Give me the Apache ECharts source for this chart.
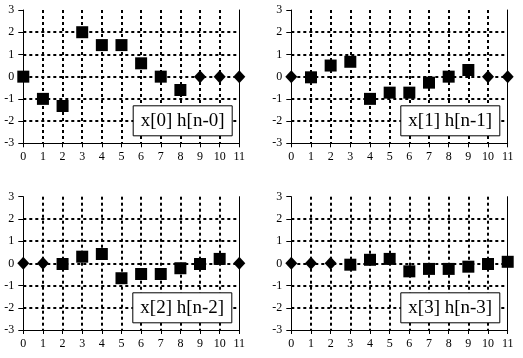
<!DOCTYPE html>
<html><head><meta charset="utf-8">
<script src="https://cdn.jsdelivr.net/npm/echarts@6/dist/echarts.min.js"></script>
<style>html,body{margin:0;padding:0;background:#fff}#c{width:523px;height:358px}</style>
</head><body><div id="c"></div>
<script>
var nValues = [0,1,2,3,4,5,6,7,8,9,10,11];
var xTicks = ['0','1','2','3','4','5','6','7','8','9','10','11'];
var yTicks = ['-3','-2','-1','0','1','2','3'];
var panelLabels = ['x[0] h[n-0]','x[1] h[n-1]','x[2] h[n-2]','x[3] h[n-3]'];
var panel0 = [0,-1.0,-1.32,2.0,1.42,1.42,0.6,0,-0.6,0,0,0];
var panel1 = [0,-0.03,0.5,0.67,-1.0,-0.72,-0.72,-0.27,0,0.3,0,0];
var panel2 = [0,0,-0.03,0.3,0.42,-0.67,-0.48,-0.48,-0.22,-0.03,0.2,0];
var panel3 = [0,0,0,-0.06,0.16,0.2,-0.36,-0.25,-0.25,-0.15,-0.03,0.07];
var squareStart = [0,1,2,3];
var squareEnd = [8,9,10,11];
var panels = [panel0,panel1,panel2,panel3];

var gridPos = [
  {left:23.3, top:10, width:216, height:133.3},
  {left:291.3, top:10, width:216.4, height:133.3},
  {left:23.3, top:196.7, width:216, height:133.3},
  {left:291.3, top:196.7, width:216.4, height:133.3}
];
var boxPos = [
  {left:132.7, top:105.3},
  {left:400.3, top:105.3},
  {left:132.3, top:292.3},
  {left:400.3, top:292.3}
];
var font = 'Liberation Serif';
var grid=[], xAxis=[], yAxis=[], series=[], title=[];
panels.forEach(function(vals, i){
  grid.push(gridPos[i]);
  xAxis.push({type:'value', gridIndex:i, min:0, max:11, interval:1,
    axisLine:{onZero:false, lineStyle:{color:'#000', width:1}},
    axisTick:{show:true, length:4, lineStyle:{color:'#000'}},
    axisLabel:{color:'#000', fontFamily:font, fontSize:12, margin:8,
      formatter:function(v){return xTicks[v];}},
    splitLine:{show:true, showMinLine:false, showMaxLine:false,
      lineStyle:{color:'#000', width:2, type:[3,3]}}
  });
  yAxis.push({type:'value', gridIndex:i, min:-3, max:3, interval:1,
    axisLine:{show:true, lineStyle:{color:'#000', width:1}},
    axisTick:{show:true, length:5, lineStyle:{color:'#000'}},
    axisLabel:{color:'#000', fontFamily:font, fontSize:12, margin:9,
      formatter:function(v){return yTicks[v+3];}},
    splitLine:{show:true, showMinLine:false, showMaxLine:false,
      lineStyle:{color:'#000', width:2, type:[3,3]}}
  });
  // right border
  yAxis.push({type:'value', gridIndex:i, min:-3, max:3, interval:1, position:'right',
    axisLine:{show:true, lineStyle:{color:'#000', width:1}},
    axisTick:{show:false}, axisLabel:{show:false}, splitLine:{show:false}
  });
  var sq=[], dm=[];
  nValues.forEach(function(n, k){
    if (n>=squareStart[i] && n<=squareEnd[i]) sq.push([n, vals[k]]);
    else dm.push([n, vals[k]]);
  });
  series.push({type:'scatter', xAxisIndex:i, yAxisIndex:2*i, data:sq,
    symbol:'rect', symbolSize:12, itemStyle:{color:'#000', opacity:1}, z:5, silent:true});
  series.push({type:'scatter', xAxisIndex:i, yAxisIndex:2*i, data:dm,
    symbol:'diamond', symbolSize:[12,13], itemStyle:{color:'#000', opacity:1}, z:5, silent:true});
  title.push({text:panelLabels[i], left:boxPos[i].left, top:boxPos[i].top,
    backgroundColor:'#fff', borderColor:'#000', borderWidth:1, padding:[5,8,5,8],
    textStyle:{fontFamily:font, fontSize:19, fontWeight:'normal', color:'#000', lineHeight:21},
    z:10});
});
var chart = echarts.init(document.getElementById('c'), null, {renderer:'canvas'});
chart.setOption({animation:false, backgroundColor:'#fff', grid:grid, xAxis:xAxis, yAxis:yAxis, series:series, title:title});
</script></body></html>
